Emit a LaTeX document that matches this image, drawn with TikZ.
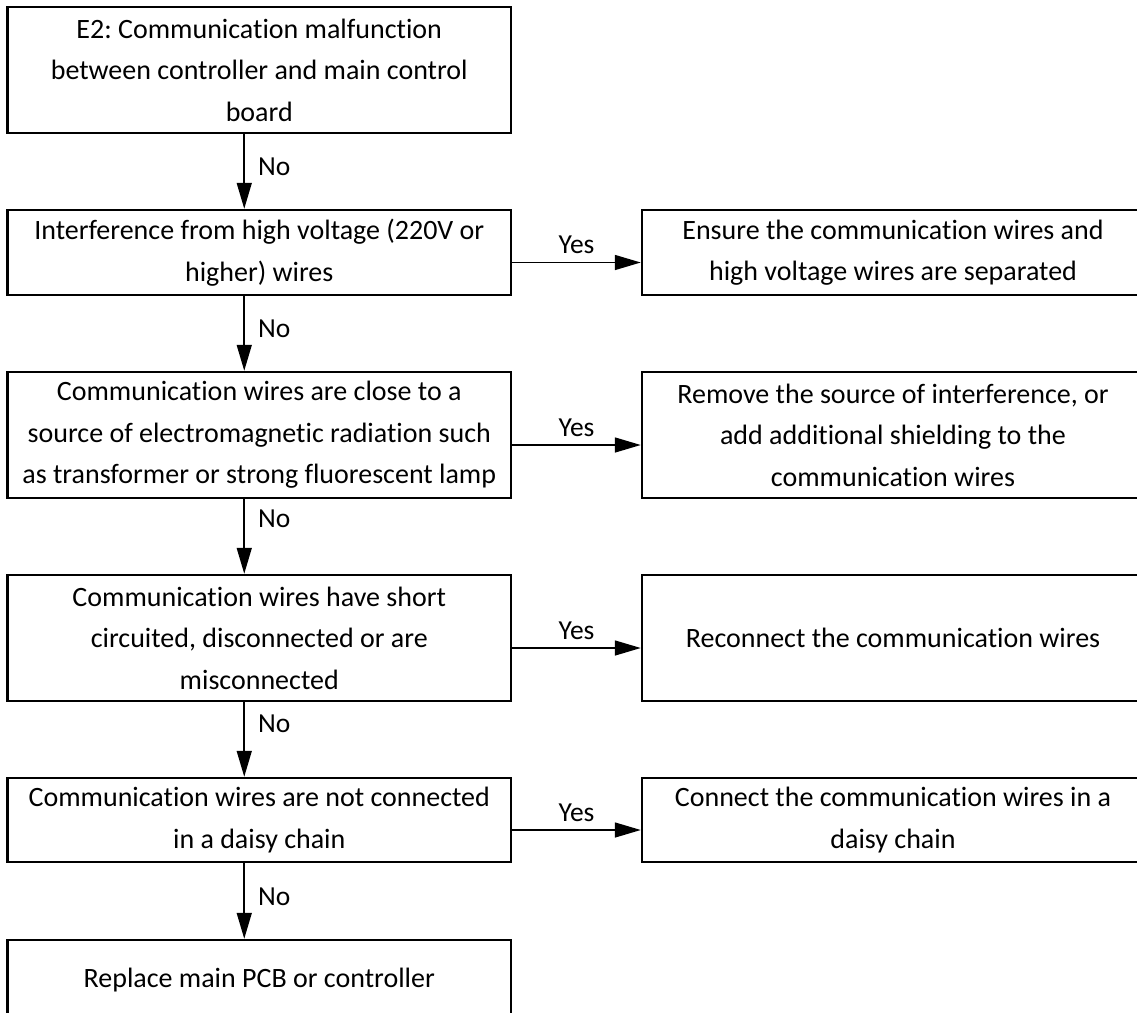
\documentclass[tikz,border=0pt]{standalone}
\usepackage{fontspec}
\setmainfont{Carlito}[Ligatures=NoCommon]
\frenchspacing
\usetikzlibrary{arrows.meta}
\tikzset{
  box/.style={draw, line width=2.5pt, align=center, inner sep=0pt,
    font=\fontsize{28}{41.5}\selectfont},
  lbox/.style={box, minimum width=503.5pt},
  rbox/.style={box, minimum width=502pt},
  arr/.style={line width=1.6pt, -{Triangle[length=26pt,width=15pt]}},
  lab/.style={font=\fontsize{27.5}{32}\selectfont, inner sep=3pt},
}
\begin{document}
\begin{tikzpicture}[x=1pt, y=-1pt]
\clip (0,0) rectangle (1137,1012);
\fill[white] (0,0) rectangle (1137,1012);
% left column
\node[lbox, minimum height=126pt] (b1) at (259.25,70) {E2: Communication malfunction\\between controller and main control\\board};
\node[lbox, minimum height=85pt] (b2) at (259.25,252.5) {Interference from high voltage (220V or\\higher) wires};
\node[lbox, minimum height=126pt] (b3) at (259.25,435) {Communication wires are close to a\\source of electromagnetic radiation such\\as transformer or strong fluorescent lamp};
\node[lbox, minimum height=126pt] (b4) at (259.25,638) {Communication wires have short\\circuited, disconnected or are\\misconnected};
\node[lbox, minimum height=84pt] (b5) at (259.25,820) {Communication wires are not connected\\in a daisy chain};
\node[lbox, minimum height=80pt] (b6) at (259.25,980) {Replace main PCB or controller};
% right column
\node[rbox, minimum height=85pt] (r2) at (893,252.5) {Ensure the communication wires and\\high voltage wires are separated};
\node[rbox, minimum height=126pt] (r3) at (893,435) {Remove the source of interference, or\\add additional shielding to the\\communication wires};
\node[rbox, minimum height=126pt] (r4) at (893,638) {Reconnect the communication wires};
\node[rbox, minimum height=84pt] (r5) at (893,820) {Connect the communication wires in a\\daisy chain};
% No arrows
\draw[arr] ([xshift=-15pt]b1.south) -- node[lab, pos=0.44, right=10pt]{No} ([xshift=-15pt]b2.north);
\draw[arr] ([xshift=-15pt]b2.south) -- node[lab, pos=0.43, right=10pt]{No} ([xshift=-15pt]b3.north);
\draw[arr] ([xshift=-15pt]b3.south) -- node[lab, pos=0.26, right=10pt]{No} ([xshift=-15pt]b4.north);
\draw[arr] ([xshift=-15pt]b4.south) -- node[lab, pos=0.29, right=10pt]{No} ([xshift=-15pt]b5.north);
\draw[arr] ([xshift=-15pt]b5.south) -- node[lab, pos=0.45, right=10pt]{No} ([xshift=-15pt]b6.north);
% Yes arrows
\draw[arr] ([yshift=-10pt]b2.east) -- node[lab, midway, above=5pt]{Yes} ([yshift=-10pt]r2.west);
\draw[arr] ([yshift=-10pt]b3.east) -- node[lab, midway, above=5pt]{Yes} ([yshift=-10pt]r3.west);
\draw[arr] ([yshift=-10pt]b4.east) -- node[lab, midway, above=5pt]{Yes} ([yshift=-10pt]r4.west);
\draw[arr] ([yshift=-10pt]b5.east) -- node[lab, midway, above=5pt]{Yes} ([yshift=-10pt]r5.west);
\end{tikzpicture}
\end{document}
